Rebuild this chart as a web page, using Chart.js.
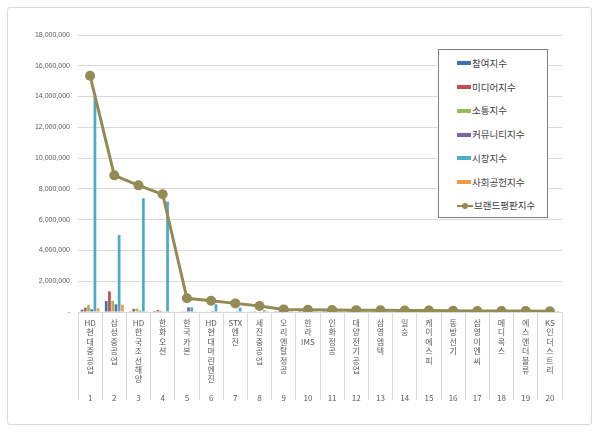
<!DOCTYPE html>
<html lang="ko">
<head>
<meta charset="utf-8">
<script src="https://cdn.jsdelivr.net/npm/chart.js@4"></script>
<style>
  html, body { margin: 0; padding: 0; background: #fff; }
  #wrap { position: relative; width: 600px; height: 433px; }
  #frame { position: absolute; left: 7px; top: 7px; width: 585px; height: 418px;
           border: 1px solid #d9d9d9; border-radius: 3px; box-sizing: border-box; }
  canvas { position: absolute; left: 0; top: 0; }
  #legend { position: absolute; left: 438px; top: 49px; width: 110px; height: 169px;
            border: 1px solid #808080; box-sizing: border-box; background: #fff;
            font-family: "Noto Sans CJK KR", "Noto Sans", sans-serif; font-size: 9.5px; color: #404040; }
  .item { position: absolute; left: 18px; height: 12px; line-height: 12px; white-space: nowrap; }
  .sw { display: inline-block; width: 14px; height: 4px; vertical-align: middle; margin-right: 1px; position: relative; top: -1px; }
  .ln { display: inline-block; width: 16px; height: 2px; vertical-align: middle; position: relative; top: -1px; margin-right: 1px; }
  .ln i { position: absolute; left: 5px; top: -2px; width: 6px; height: 6px; border-radius: 50%; }
</style>
</head>
<body>
<div id="wrap">
  <div id="frame"></div>
  <canvas id="chart" width="600" height="433"></canvas>
  <div id="legend"></div>
</div>
<script>
// Brand reputation index, shipbuilding / marine equipment companies
const companies = ["HD현대중공업", "삼성중공업", "HD한국조선해양", "한화오션", "한국카본", "HD현대마린엔진", "STX엔진", "세진중공업",
  "오리엔탈정공", "한라IMS", "인화정공", "대양전기공업", "삼영엠텍", "일승", "케이에스피", "동방선기", "삼영이엔씨", "메디콕스",
  "에스앤더블류", "KS인더스트리"];
const ranks = ["1", "2", "3", "4", "5", "6", "7", "8", "9", "10", "11", "12", "13", "14", "15", "16", "17", "18", "19", "20"];

const participation = [150000, 710000, 50000, 60000, 30000, 30000, 40000, 20000, 15000, 10000, 10000, 10000, 10000, 8000, 8000, 7000, 6000, 5000, 5000, 4000];
const media = [280000, 1340000, 200000, 120000, 20000, 40000, 30000, 20000, 10000, 10000, 8000, 8000, 6000, 6000, 5000, 5000, 4000, 4000, 3000, 3000];
const communication = [450000, 730000, 220000, 80000, 50000, 30000, 30000, 30000, 20000, 15000, 15000, 12000, 10000, 10000, 8000, 8000, 7000, 6000, 5000, 5000];
const community = [180000, 500000, 80000, 40000, 300000, 60000, 50000, 40000, 30000, 20000, 20000, 15000, 15000, 12000, 10000, 10000, 8000, 8000, 6000, 5000];
const market = [14000000, 5000000, 7390000, 7170000, 300000, 500000, 280000, 120000, 60000, 60000, 50000, 40000, 40000, 35000, 30000, 30000, 25000, 20000, 20000, 15000];
const social = [240000, 470000, 50000, 30000, 20000, 20000, 20000, 10000, 8000, 8000, 6000, 6000, 5000, 5000, 4000, 4000, 3000, 3000, 3000, 2000];
const brand = [15350000, 8880000, 8230000, 7650000, 890000, 730000, 560000, 390000, 170000, 150000, 130000, 120000, 110000, 100000, 90000, 80000, 70000, 65000, 60000, 50000];

const LABEL_ROWS = 8;

// split a name into vertical rows: latin runs stay together, hangul one per row
function vertical(name, rank) {
  const rows = name.match(/[A-Za-z]+|./g);
  while (rows.length < LABEL_ROWS) rows.push("");
  rows.push(rank);
  return rows;
}

const bars = [
  { label: "참여지수", data: participation, color: "#3f6fb5" },
  { label: "미디어지수", data: media, color: "#c0504d" },
  { label: "소통지수", data: communication, color: "#9bbb59" },
  { label: "커뮤니티지수", data: community, color: "#8064a2" },
  { label: "시장지수", data: market, color: "#4bacc6" },
  { label: "사회공헌지수", data: social, color: "#f79646" },
];
const LINE = "#948a54";
const GRID = "#d9d9d9";

const datasets = bars.map(b => ({
  type: "bar", label: b.label, data: b.data, backgroundColor: b.color,
  categoryPercentage: 0.8, barPercentage: 0.85, order: 1,
}));
datasets.push({
  type: "line", label: "브랜드평판지수", data: brand, borderColor: LINE, backgroundColor: LINE,
  borderWidth: 3, pointRadius: 5, pointHoverRadius: 5, pointBackgroundColor: LINE, pointBorderWidth: 0,
  tension: 0, order: 0,
});

new Chart(document.getElementById("chart"), {
  data: { labels: companies.map((c, i) => vertical(c, ranks[i])), datasets },
  options: {
    responsive: false, animation: false,
    layout: { padding: { left: 8, right: 38, top: 35, bottom: 0 } },
    plugins: { legend: { display: false }, tooltip: { enabled: false } },
    scales: {
      x: {
        grid: { offset: true, drawOnChartArea: false, color: GRID, tickLength: 88 },
        border: { color: GRID },
        ticks: {
          autoSkip: false, maxRotation: 0, minRotation: 0, padding: -82, color: "#595959",
          font: { family: "'Noto Sans CJK KR', sans-serif", size: 8, lineHeight: 1.18 },
        },
        afterFit: s => { s.height = 121; },
      },
      y: {
        min: 0, max: 18000000,
        grid: { color: GRID, drawTicks: false },
        border: { display: false },
        ticks: {
          stepSize: 2000000, padding: 8, color: "#595959",
          font: { family: "'Liberation Sans', sans-serif", size: 7 },
          callback: v => v === 0 ? "-" : v.toLocaleString("en-US"),
        },
        afterFit: s => { s.width = 70; },
      },
    },
  },
});

// boxed legend, built from the same datasets
const leg = document.getElementById("legend");
datasets.forEach((d, i) => {
  const row = document.createElement("div");
  row.className = "item";
  row.style.top = (7 + i * 23.7) + "px";
  const mark = d.type === "line"
    ? `<span class="ln" style="background:${LINE}"><i style="background:${LINE}"></i></span>`
    : `<span class="sw" style="background:${d.backgroundColor}"></span>`;
  row.innerHTML = mark + d.label;
  leg.appendChild(row);
});
</script>
</body>
</html>
